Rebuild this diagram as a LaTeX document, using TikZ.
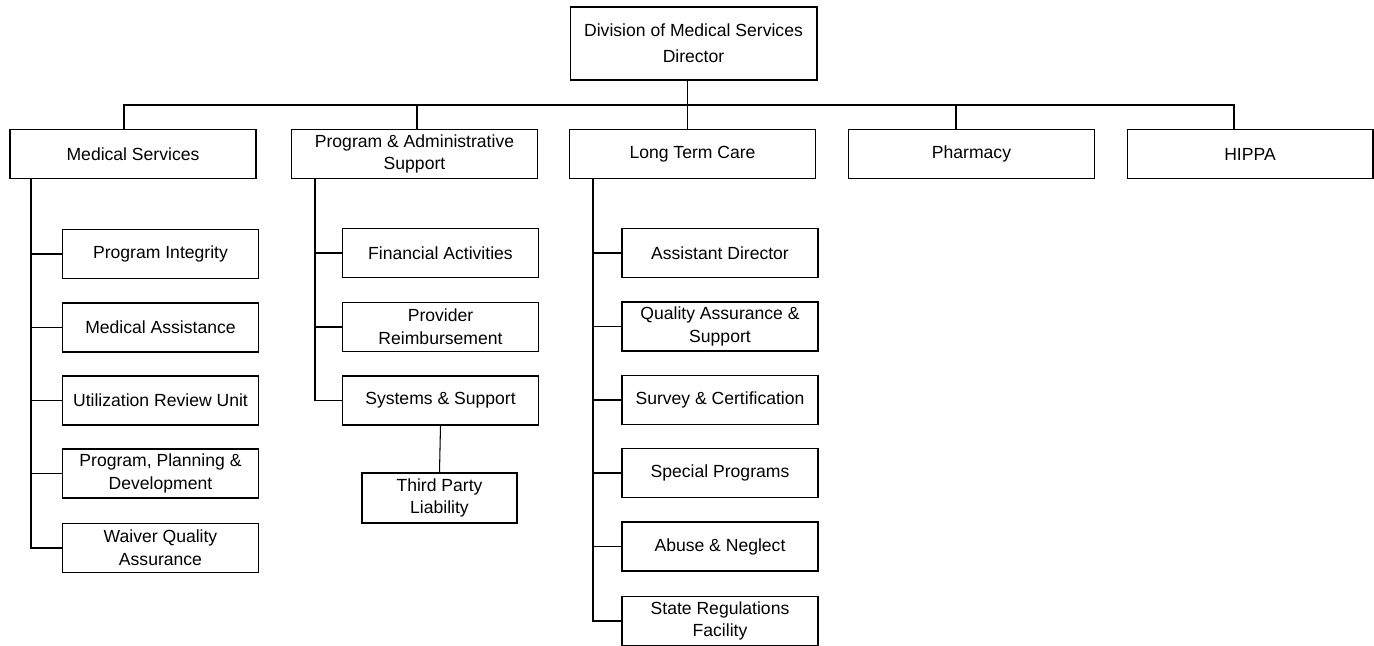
\documentclass[tikz,border=0pt]{standalone}
\usepackage{fontspec}
\setmainfont{Liberation Sans}

\begin{document}
\begin{tikzpicture}[x=0.02cm,y=-0.02cm]
        \tikzstyle{unit}=[rectangle,draw,line width=0.6pt,align=center,inner sep=2pt,font=\fontsize{10}{13}\selectfont]
        \tikzstyle{head}=[unit,minimum width=4.94cm,minimum height=1.46cm,font=\fontsize{10}{15}\selectfont]
        \tikzstyle{branch}=[unit,minimum width=4.92cm,minimum height=0.98cm]
        \tikzstyle{office}=[unit,minimum width=3.92cm,minimum height=0.98cm]
        \tikzstyle{link}=[line width=0.6pt]
        \useasboundingbox (0,0) rectangle (1374,646);

        \node[head] (dir) at (693.5,43.5) {Division of Medical Services\\Director};

        \node[branch] (ms) at (133,154) {Medical Services};
        \node[branch] (pas) at (414.5,154) {Program \& Administrative\\Support};
        \node[branch] (ltc) at (692.5,154) {Long Term Care};
        \node[branch] (pharm) at (971.5,154) {Pharmacy};
        \node[branch] (hippa) at (1250,154) {HIPPA};

        % medical services
        \node[office] (ms1) at (160.5,254) {Program Integrity};
        \node[office] (ms2) at (160.5,327.5) {Medical Assistance};
        \node[office] (ms3) at (160.5,400.5) {Utilization Review Unit};
        \node[office] (ms4) at (160.5,473.5) {Program, Planning \&\\Development};
        \node[office] (ms5) at (160.5,548) {Waiver Quality\\Assurance};

        % program & administrative support
        \node[office] (pas1) at (440.5,253) {Financial Activities};
        \node[office] (pas2) at (440.5,327) {Provider\\Reimbursement};
        \node[office] (pas3) at (440.5,400.5) {Systems \& Support};
        \node[unit,minimum width=3.1cm,minimum height=1cm] (tpl) at (439.5,498) {Third Party\\Liability};

        % long term care
        \node[office] (ltc1) at (720,253) {Assistant Director};
        \node[office] (ltc2) at (720,326.5) {Quality Assurance \&\\Support};
        \node[office] (ltc3) at (720,400) {Survey \& Certification};
        \node[office] (ltc4) at (720,473) {Special Programs};
        \node[office] (ltc5) at (720,546.5) {Abuse \& Neglect};
        \node[office] (ltc6) at (720,621) {State Regulations\\Facility};

        \coordinate (bus) at (0,105);
        \coordinate (msline) at (31,0);
        \coordinate (pasline) at (315,0);
        \coordinate (ltcline) at (593,0);

        % top level
        \draw[link] ([xshift=-0.12cm]dir.south) -- ([xshift=-0.12cm]dir.south |- ltc.north);
        \draw[link] ([xshift=-0.18cm]ms.north) -- ([xshift=-0.18cm]ms.north |- bus)
            -- ([xshift=-0.32cm]hippa.north |- bus) -- ([xshift=-0.32cm]hippa.north);
        \draw[link] ([xshift=0.05cm]pas.north) -- ([xshift=0.05cm]pas.north |- bus);
        \draw[link] ([xshift=-0.31cm]pharm.north) -- ([xshift=-0.31cm]pharm.north |- bus);

        % medical services
        \draw[link] (msline |- ms.south) |- (ms5.west);
        \draw[link] (ms1.west) -- (ms1.west -| msline);
        \draw[link] (ms2.west) -- (ms2.west -| msline);
        \draw[link] (ms3.west) -- (ms3.west -| msline);
        \draw[link] (ms4.west) -- (ms4.west -| msline);

        % program & administrative support
        \draw[link] (pasline |- pas.south) |- (pas3.west);
        \draw[link] (pas1.west) -- (pas1.west -| pasline);
        \draw[link] (pas2.west) -- (pas2.west -| pasline);
        \draw[link] (pas3.south) -- (tpl.north);

        % long term care
        \draw[link] (ltcline |- ltc.south) |- (ltc6.west);
        \draw[link] (ltc1.west) -- (ltc1.west -| ltcline);
        \draw[link] (ltc2.west) -- (ltc2.west -| ltcline);
        \draw[link] (ltc3.west) -- (ltc3.west -| ltcline);
        \draw[link] (ltc4.west) -- (ltc4.west -| ltcline);
        \draw[link] (ltc5.west) -- (ltc5.west -| ltcline);
\end{tikzpicture}
\end{document}
